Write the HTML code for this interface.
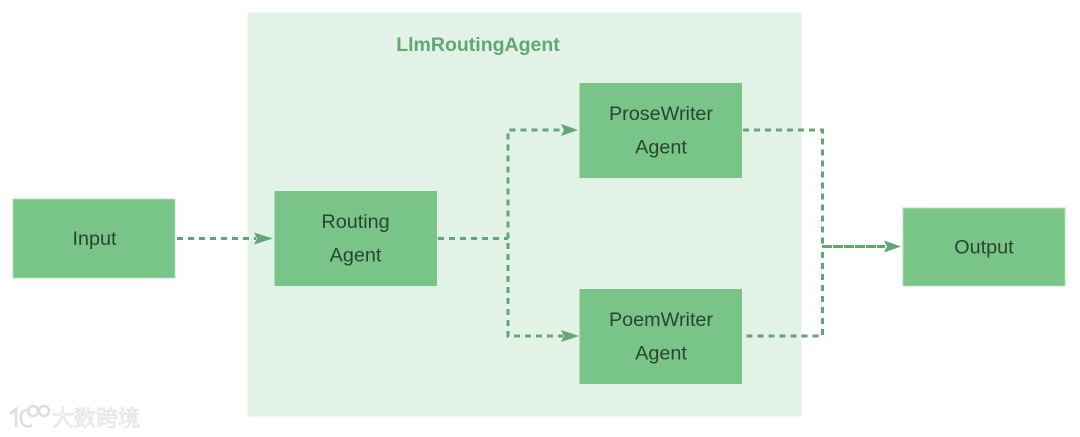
<!DOCTYPE html>
<html><head><meta charset="utf-8"><style>
html,body{margin:0;padding:0;background:#fff}
svg{display:block}
text{font-family:"Liberation Sans",sans-serif}
</style></head><body>
<svg xmlns="http://www.w3.org/2000/svg" width="1080" height="437" viewBox="0 0 1080 437">
<rect width="1080" height="437" fill="#fff"/>
<rect x="247.500" y="12.500" width="554" height="404" fill="#e2f2e6"/>
<text x="478" y="51" font-size="19.500" font-weight="bold" fill="#5fa871" text-anchor="middle">LlmRoutingAgent</text>
<g fill="#79c587" stroke="#dff1e3" stroke-width="1.500">
<rect x="12.500" y="198.500" width="163" height="80"/>
<rect x="902.500" y="207.500" width="163" height="79"/>
</g>
<g fill="#79c587">
<rect x="274.500" y="191" width="162.500" height="95"/>
<rect x="579.500" y="83" width="162.500" height="95"/>
<rect x="579.500" y="289" width="162.500" height="95"/>
</g>
<g fill="#2a4431" font-size="19.800" text-anchor="middle">
<text x="94.500" y="245">Input</text>
<text x="355.500" y="228">Routing</text>
<text x="355.500" y="261.500">Agent</text>
<text x="661" y="120">ProseWriter</text>
<text x="661" y="153.500">Agent</text>
<text x="661" y="326">PoemWriter</text>
<text x="661" y="359.500">Agent</text>
<text x="984" y="253.500">Output</text>
</g>
<g fill="none" stroke="#63a575" stroke-width="3" stroke-dasharray="6 5">
<path d="M177 238.500H256"/>
<path d="M438 238.500H508"/>
<path d="M508 238.500V130H563"/>
<path d="M508 243V336H563"/>
<path d="M743 130H822.500V246"/>
<path d="M822.500 252V336H743"/>
</g>
<path d="M822 246.500H885" fill="none" stroke="#63a575" stroke-width="3" stroke-dasharray="10 1"/>
<g fill="#63a575">
<path d="M254 232.500L273 238.500L254 244.500L257 238.500Z"/>
<path d="M561 124L578 130L561 136L564 130Z"/>
<path d="M561 330L579 336L561 342L564 336Z"/>
<path d="M884 240.500L901 246.500L884 252.500L887 246.500Z"/>
</g>
<g fill="none" stroke="#dedede" stroke-width="2.500">
<path d="M10 414L16 409V427"/>
<path d="M30 410C23 408 20 414 21 420C22 426 27 428 32 425"/>
<circle cx="33" cy="411" r="5"/>
<circle cx="44" cy="411" r="5"/>
</g>
<text x="52" y="426" font-size="22" fill="#f6f6f6" stroke="#dcdcdc" stroke-width=".6" style="font-family:'Liberation Sans','Noto Sans CJK SC',sans-serif">大数跨境</text>
</svg>
</body></html>
